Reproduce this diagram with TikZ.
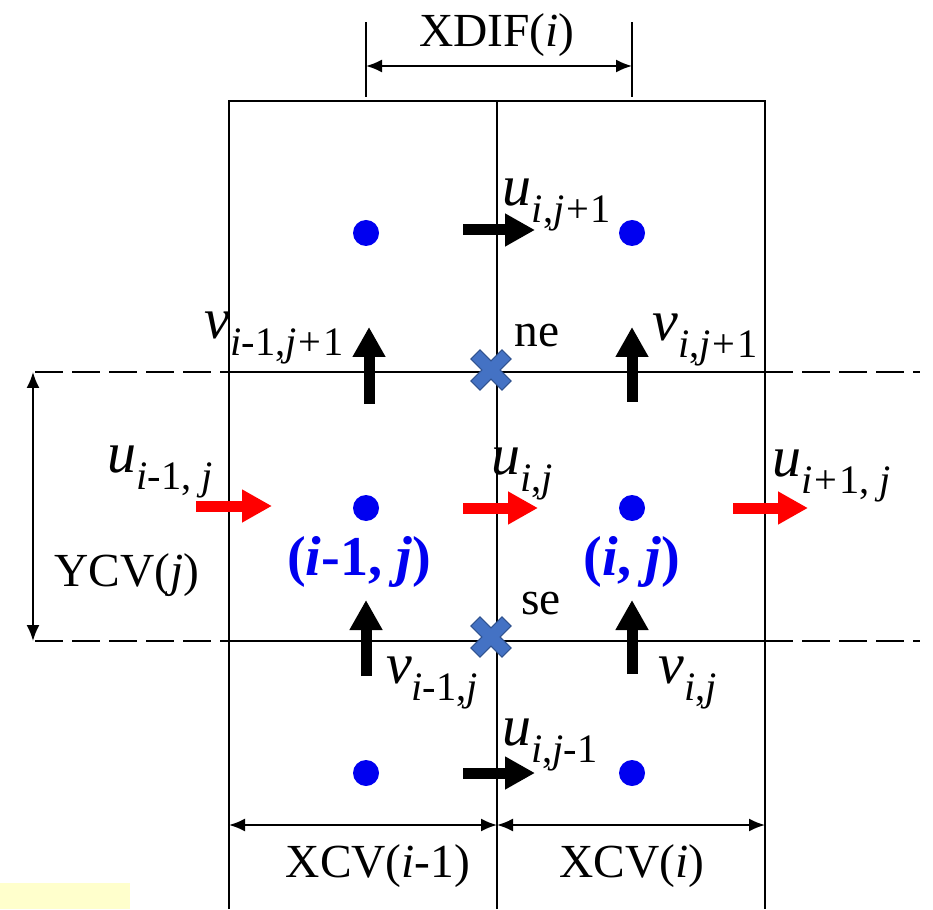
\documentclass[tikz,border=0pt]{standalone}
\usepackage{fontspec}
\setmainfont{Liberation Serif}[ItalicFont={Liberation Serif Italic},BoldFont={Liberation Serif Bold},BoldItalicFont={Liberation Serif Bold Italic}]
\usetikzlibrary{positioning,arrows.meta}
\definecolor{dotblue}{HTML}{0000F0}
\definecolor{flowred}{HTML}{FF0000}
\definecolor{xfill}{HTML}{4472C4}
\definecolor{xedge}{HTML}{2F528F}
\definecolor{lightyellow}{HTML}{FFFFCC}
\newcommand{\vel}[2]{\textit{#1}\raisebox{-0.3em}{\fontsize{23}{23}\selectfont #2}}
\tikzset{xpt/.pic={
  \filldraw[fill=xfill,draw=xedge,line width=0.6pt,rotate=45]
    (0.13,0.13) -- (0.13,0.44) -- (-0.13,0.44) -- (-0.13,0.13) -- (-0.44,0.13) -- (-0.44,-0.13)
    -- (-0.13,-0.13) -- (-0.13,-0.44) -- (0.13,-0.44) -- (0.13,-0.13) -- (0.44,-0.13) -- (0.44,0.13) -- cycle;}}

\begin{document}
\begin{tikzpicture}[
    grid/.style={line width=1.1pt},
    ext/.style={line width=1.1pt,dash pattern=on 0.56cm off 0.18cm},
    dim/.style={line width=1.1pt,{Latex[length=0.32cm,width=0.26cm]}-{Latex[length=0.32cm,width=0.26cm]}},
    vec/.style={line width=0.22cm,-{Triangle[length=0.6cm,width=0.62cm]}},
    flow/.style={vec,color=flowred},
    pt/.style={circle,fill=dotblue,inner sep=0pt,minimum size=0.52cm},
    lbl/.style={font=\fontsize{27}{30}\selectfont,inner sep=1pt},
    vlbl/.style={font=\fontsize{33}{35}\selectfont,inner sep=1pt},
    cell/.style={font=\bfseries\fontsize{32}{34}\selectfont,text=dotblue,inner sep=1pt}]
  \useasboundingbox (0,0) rectangle (18.66,18.18);
  \fill[lightyellow] (0,0) rectangle (2.6,0.52);

  % control volumes
  \draw[grid] (4.58,0) -- (4.58,16.16) -- (15.3,16.16) -- (15.3,0);
  \draw[grid] (9.94,0) -- (9.94,16.16);
  \draw[grid] (4.58,10.74) -- (15.3,10.74) (4.58,5.36) -- (15.3,5.36);
  \draw[ext] (0.7,10.74) -- (4.58,10.74) (0.7,5.36) -- (4.58,5.36);
  \draw[ext] (15.3,10.74) -- (18.4,10.74) (15.3,5.36) -- (18.4,5.36);

  % dimensions
  \draw[grid] (7.32,16.24) -- (7.32,17.74) (12.64,16.24) -- (12.64,17.74);
  \draw[dim] (7.32,16.86) -- (12.64,16.86);
  \draw[dim] (0.66,10.74) -- (0.66,5.36);
  \draw[dim] (4.58,1.68) -- (9.94,1.68);
  \draw[dim] (9.94,1.68) -- (15.3,1.68);
  \node[lbl] (xdif) at (9.94,17.48) {XDIF(\textit{i})};
  \node[lbl] (ycv) at (2.54,6.68) {YCV(\textit{j})};
  \node[lbl] (xcvw) at (7.56,0.86) {XCV(\textit{i}-1)};
  \node[lbl] (xcve) at (12.64,0.86) {XCV(\textit{i})};

  % nodes
  \node[pt] (nw) at (7.32,13.52) {};
  \node[pt] (ne) at (12.64,13.52) {};
  \node[pt] (cw) at (7.32,8.02) {};
  \node[pt] (ce) at (12.64,8.02) {};
  \node[pt] (sw) at (7.32,2.72) {};
  \node[pt] (se) at (12.64,2.72) {};
  \node[cell] (lw) at (7.18,6.94) {(\textit{i}-1, \textit{j})};
  \node[cell] (le) at (12.64,6.94) {(\textit{i}, \textit{j})};

  % corners
  \pic (xne) at (9.82,10.78) {xpt};
  \pic (xse) at (9.82,5.44) {xpt};
  \node[lbl] (lne) at (10.74,11.46) {ne};
  \node[lbl] (lse) at (10.82,6.1) {se};

  % velocities
  \draw[vec] (9.26,13.58) -- (10.7,13.58);
  \draw[vec] (7.38,10.1) -- (7.38,11.64);
  \draw[vec] (12.64,10.14) -- (12.64,11.64);
  \draw[vec] (7.32,4.66) -- (7.32,6.18);
  \draw[vec] (12.64,4.7) -- (12.64,6.18);
  \draw[vec] (9.26,2.72) -- (10.7,2.72);
  \draw[flow] (3.92,8.06) -- (5.44,8.06);
  \draw[flow] (9.26,8.02) -- (10.76,8.02);
  \draw[flow] (14.66,8.02) -- (16.16,8.02);

  \node[vlbl] (unn) at (11.14,14.08) {\vel{u}{\textit{i},\textit{j}\kern1pt+\kern1pt1}};
  \node[vlbl] (vnw) at (5.48,11.42) {\vel{v}{\textit{i}-1,\textit{j}\kern1pt+\kern1pt1}};
  \node[vlbl] (vne) at (14.1,11.38) {\vel{v}{\textit{i},\textit{j}\kern1pt+\kern1pt1}};
  \node[vlbl] (uw) at (3.2,8.74) {\vel{u}{\textit{i}-1, \textit{j}}};
  \node[vlbl] (uc) at (10.44,8.7) {\vel{u}{\textit{i},\textit{j}}};
  \node[vlbl] (ue) at (16.64,8.66) {\vel{u}{\textit{i}\kern1pt+\kern1pt1, \textit{j}}};
  \node[vlbl] (vsw) at (8.64,4.52) {\vel{v}{\textit{i}-1,\textit{j}}};
  \node[vlbl] (vse) at (13.76,4.52) {\vel{v}{\textit{i},\textit{j}}};
  \node[vlbl] (uss) at (11.0,3.28) {\vel{u}{\textit{i},\textit{j}-1}};
\end{tikzpicture}
\end{document}
